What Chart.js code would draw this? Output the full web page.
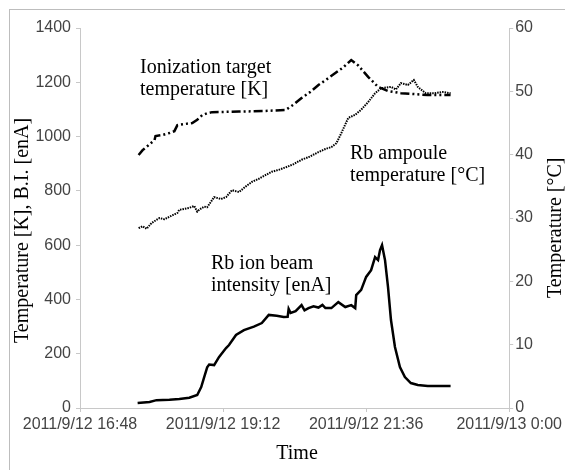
<!DOCTYPE html>
<html>
<head>
<meta charset="utf-8">
<script src="https://cdn.jsdelivr.net/npm/chart.js@4.4.1/dist/chart.umd.min.js"></script>
<style>
  html, body { margin: 0; padding: 0; background: #fff; overflow: hidden; }
  #frame { position: absolute; left: 9px; top: 9px; width: 700px; height: 600px; border: 1px solid #bdbdbd; }
  #wrap { position: absolute; left: 0; top: 0; width: 565px; height: 470px; }
</style>
</head>
<body>
<div id="frame"></div>
<div id="wrap"><canvas id="chart" width="565" height="470"></canvas></div>
<script>
// x ticks (clock), every 2h24m
var xTickLabels = ['2011/9/12 16:48', '2011/9/12 19:12', '2011/9/12 21:36', '2011/9/13 0:00'];

// Ionization target temperature [K]
var targetTime = ['17:47','17:51','17:55','17:59','18:03','18:04','18:11','18:18','18:23','18:26','18:33','18:41','18:46','18:51','18:56','19:01','19:28','19:53','20:15','20:23','20:31','20:40','20:48','20:56','21:05','21:13','21:21','21:28','21:38','21:48','21:58','22:11','22:23','22:38','23:01'];
var targetTemp = [932, 950, 962, 975, 987, 1002, 1006, 1013, 1020, 1042, 1046, 1050, 1062, 1079, 1086, 1090, 1092, 1094, 1098, 1118, 1142, 1165, 1190, 1210, 1234, 1255, 1282, 1262, 1220, 1183, 1168, 1160, 1157, 1153, 1153];

// Rb ampoule temperature [°C]
var ampouleTime = ['17:47','17:51','17:55','18:00','18:08','18:13','18:18','18:26','18:28','18:38','18:43','18:46','18:48','18:53','18:56','19:03','19:10','19:15','19:21','19:28','19:35','19:41','19:48','19:55','20:01','20:08','20:15','20:23','20:31','20:38','20:48','20:55','21:01','21:06','21:11','21:18','21:25','21:31','21:38','21:45','21:51','22:01','22:06','22:11','22:18','22:24','22:28','22:36','22:45','22:53','23:01'];
var ampouleTemp = [28.4, 28.7, 28.3, 29.2, 30.0, 29.8, 30.2, 30.8, 31.3, 31.6, 31.9, 31.0, 31.3, 31.8, 31.7, 33.3, 33.0, 33.3, 34.4, 34.1, 35.0, 35.7, 36.2, 36.8, 37.3, 37.6, 38.0, 38.5, 39.2, 39.6, 40.4, 40.9, 41.2, 41.8, 43.4, 45.8, 46.3, 47.1, 48.3, 49.7, 50.5, 50.7, 50.3, 51.3, 51.0, 51.8, 50.7, 49.7, 49.7, 49.9, 49.7];

// Rb ion beam intensity [enA]
var beamTime = ['17:46','17:58','18:05','18:18','18:28','18:38','18:46','18:50','18:53','18:56','18:58','19:03','19:08','19:15','19:18','19:25','19:33','19:43','19:51','19:58','20:06','20:13','20:17','20:18','20:20','20:25','20:31','20:34','20:38','20:43','20:48','20:52','20:55','21:01','21:08','21:15','21:21','21:25','21:26','21:31','21:36','21:41','21:45','21:48','21:50','21:52','21:55','21:58','22:01','22:05','22:10','22:15','22:21','22:28','22:38','23:01'];
var beamCurrent = [18, 22, 29, 30, 33, 38, 48, 77, 114, 150, 160, 158, 188, 221, 232, 269, 287, 300, 313, 343, 340, 335, 336, 365, 350, 357, 379, 360, 368, 375, 370, 380, 368, 368, 390, 372, 379, 368, 416, 435, 483, 508, 556, 545, 582, 600, 545, 446, 324, 225, 151, 114, 92, 85, 81, 81];

function toMin(s) {
  var p = s.split(':');
  return parseInt(p[0]) * 60 + parseInt(p[1]);
}
function pts(times, vals) {
  var out = [];
  for (var i = 0; i < times.length; i++) {
    out.push({ x: toMin(times[i]), y: vals[i] });
  }
  return out;
}

var axisColor = '#c8c8c8';
var tickFont = { family: '"Liberation Sans", Arial, sans-serif', size: 16 };
var serif = '20px "Liberation Serif", "Times New Roman", serif';

// axis titles and series labels
var textPlugin = {
  id: 'texts',
  afterDraw: function(chart) {
    var ctx = chart.ctx;
    ctx.save();
    ctx.fillStyle = '#000';
    ctx.font = serif;
    ctx.textAlign = 'left';
    ctx.textBaseline = 'alphabetic';
    ctx.fillText('Ionization target', 140, 73);
    ctx.fillText('temperature [K]', 140, 95);
    ctx.fillText('Rb ampoule', 350, 159);
    ctx.fillText('temperature [°C]', 350, 181);
    ctx.fillText('Rb ion beam', 211, 269);
    ctx.fillText('intensity [enA]', 211, 291);

    ctx.textAlign = 'center';
    ctx.fillText('Time', 297, 459);

    ctx.save();
    ctx.translate(28, 343);
    ctx.rotate(-Math.PI / 2);
    ctx.textAlign = 'left';
    ctx.fillText('Temperature [K], B.I. [enA]', 0, 0);
    ctx.restore();

    ctx.save();
    ctx.translate(561, 298);
    ctx.rotate(-Math.PI / 2);
    ctx.textAlign = 'left';
    ctx.fillText('Temperature [°C]', 0, 0);
    ctx.restore();
    ctx.restore();
  }
};

var chart = new Chart(document.getElementById('chart'), {
  type: 'line',
  data: {
    datasets: [
      {
        label: 'Ionization target temperature [K]',
        data: pts(targetTime, targetTemp),
        yAxisID: 'y',
        borderColor: '#000',
        borderWidth: 2.5,
        borderDash: [9, 3, 2, 3, 2, 3],
        pointRadius: 0,
        tension: 0
      },
      {
        label: 'Rb ampoule temperature [°C]',
        data: pts(ampouleTime, ampouleTemp),
        yAxisID: 'y1',
        borderColor: '#000',
        borderWidth: 2,
        borderDash: [1.5, 1],
        pointRadius: 0,
        tension: 0
      },
      {
        label: 'Rb ion beam intensity [enA]',
        data: pts(beamTime, beamCurrent),
        yAxisID: 'y',
        borderColor: '#000',
        borderWidth: 2.5,
        pointRadius: 0,
        tension: 0
      }
    ]
  },
  options: {
    responsive: false,
    animation: false,
    layout: { padding: { top: 28, left: 0, right: 0, bottom: 0 } },
    plugins: { legend: { display: false }, tooltip: { enabled: false } },
    scales: {
      x: {
        type: 'linear',
        min: 1008,
        max: 1440,
        afterFit: function(s) { s.height = 62; },
        afterBuildTicks: function(s) {
          s.ticks = [1008, 1152, 1296, 1440].map(function(v) { return { value: v }; });
        },
        ticks: {
          color: '#444',
          font: tickFont,
          padding: 3,
          maxRotation: 0,
          autoSkip: false,
          callback: function(v) { return xTickLabels[[1008, 1152, 1296, 1440].indexOf(v)]; }
        },
        grid: { drawOnChartArea: false, color: axisColor, tickLength: 4 },
        border: { color: axisColor }
      },
      y: {
        position: 'left',
        min: 0,
        max: 1400,
        afterFit: function(s) { s.width = 80; },
        ticks: { stepSize: 200, color: '#444', font: tickFont, padding: 5, callback: function(v) { return String(v); } },
        grid: { drawOnChartArea: false, color: axisColor, tickLength: 4 },
        border: { color: axisColor }
      },
      y1: {
        position: 'right',
        min: 0,
        max: 60,
        afterFit: function(s) { s.width = 53; },
        ticks: { stepSize: 10, color: '#444', font: tickFont, padding: 2, callback: function(v) { return String(v); } },
        grid: { drawOnChartArea: false, color: axisColor, tickLength: 4 },
        border: { color: axisColor }
      }
    }
  },
  plugins: [textPlugin]
});
</script>
</body>
</html>
